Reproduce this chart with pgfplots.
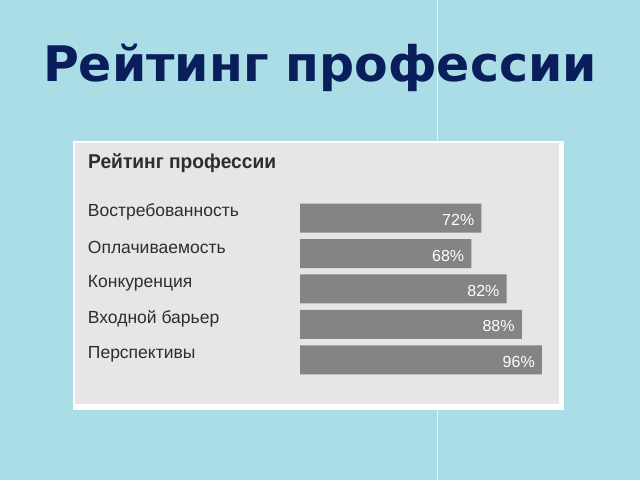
\documentclass[border=0pt]{standalone}
\usepackage{fontspec}
\setmainfont{Liberation Sans}
\newfontfamily\dejavu{DejaVu Sans}
\usepackage{pgfplots}
\pgfplotsset{compat=1.18}
\definecolor{bgblue}{RGB}{170,221,230}
\definecolor{panelgray}{RGB}{230,230,230}
\definecolor{bargray}{RGB}{132,132,132}
\definecolor{navy}{RGB}{10,30,92}
\definecolor{labgray}{RGB}{45,45,45}
\begin{document}
\begin{tikzpicture}[x=1bp,y=1bp]
\fill[bgblue] (0,0) rectangle (640,480);
\draw[white,opacity=0.7,line width=1bp] (437,0) -- (437,480);
\node[anchor=base,text=navy,font=\dejavu\bfseries\fontsize{49bp}{53bp}\selectfont,inner sep=0] at (320,399) {Рейтинг профессии};
\fill[white] (73,70) rectangle (564,339);
\fill[panelgray] (75,76) rectangle (559,337);
\node[anchor=base west,inner sep=0,text=labgray] at (88,312) {\scalebox{0.96}[1]{\bfseries\fontsize{20bp}{22bp}\selectfont Рейтинг профессии}};
\begin{axis}[
  at={(300bp,103bp)}, anchor=south west,
  scale only axis, width=252bp, height=177bp,
  xmin=0, xmax=100, ymin=-0.5, ymax=4.5,
  y dir=reverse,
  xbar, bar width=29bp,
  axis line style={draw=none},
  tick style={draw=none},
  xtick=\empty,
  ytick={0,1,2,3,4},
  yticklabels={Востребованность,Оплачиваемость,Конкуренция,Входной барьер,Перспективы},
  yticklabel style={anchor=west, inner sep=0, xshift=-208bp, yshift=6bp, text=labgray, font=\fontsize{17.5bp}{19bp}\selectfont},
  nodes near coords={\pgfmathprintnumber[assume math mode=true]{\pgfplotspointmeta}\%},
  nodes near coords style={anchor=east, inner sep=0, xshift=-7bp, yshift=-2bp, text=white, font=\fontsize{16bp}{18bp}\selectfont},
  point meta=x,
  clip=false,
]
\addplot[fill=bargray, draw=none] coordinates {(72,0) (68,1) (82,2) (88,3) (96,4)};
\end{axis}
\end{tikzpicture}
\end{document}
